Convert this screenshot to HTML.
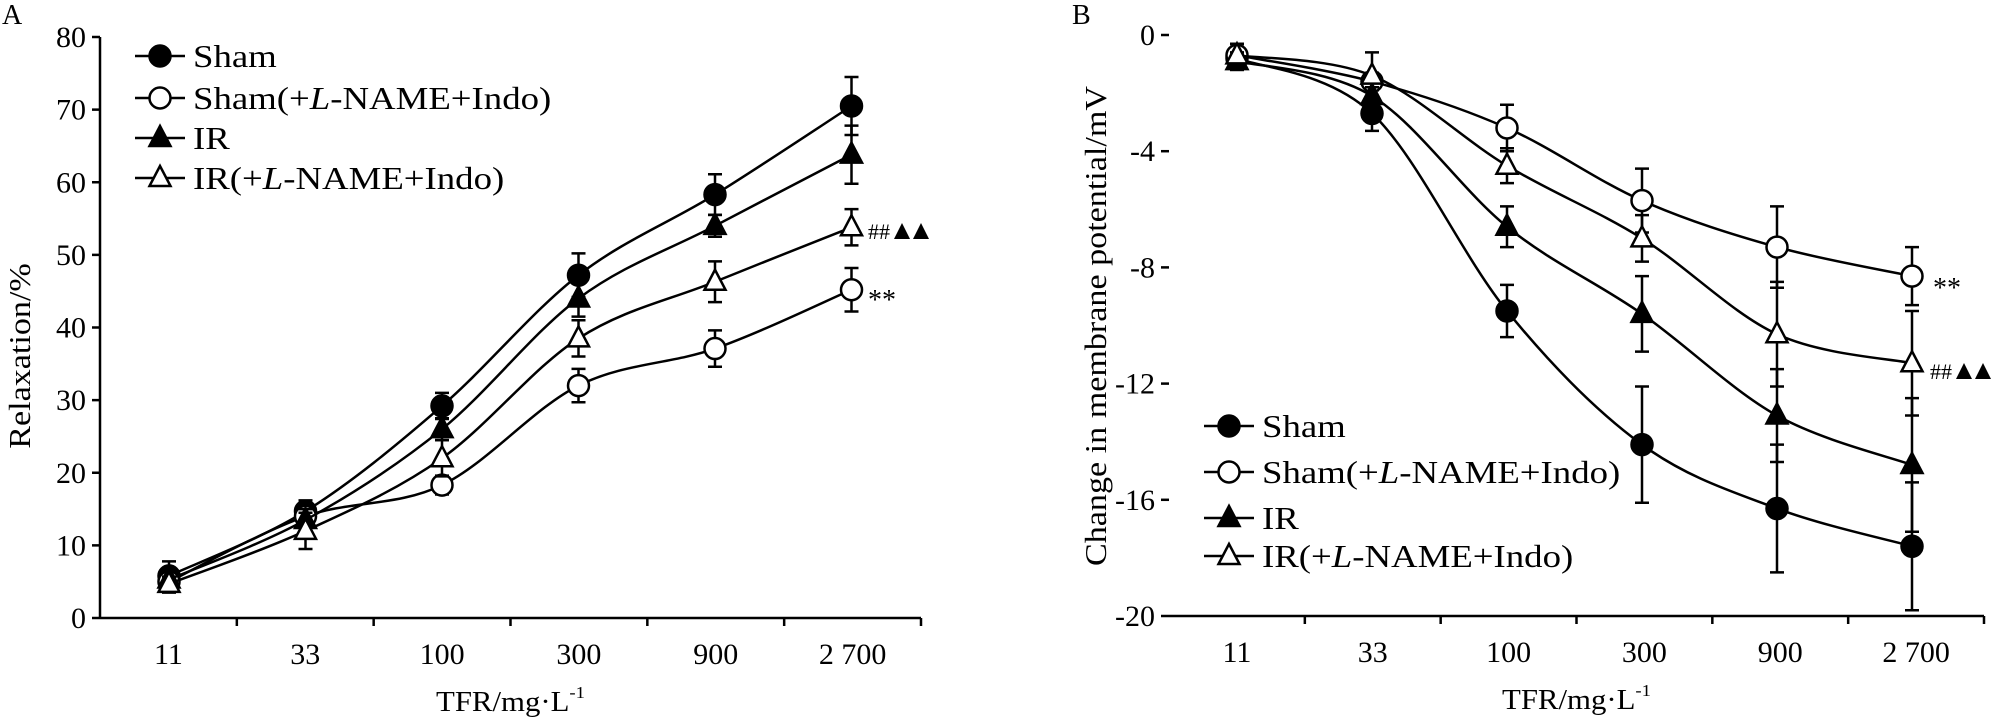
<!DOCTYPE html>
<html><head><meta charset="utf-8"><style>
html,body{margin:0;padding:0;background:#fff}
svg{display:block;font-family:"Liberation Serif",serif}
</style></head><body>
<svg id="chart" width="2005" height="724" viewBox="0 0 2005 724"></svg>
<script>
const categories = ["11","33","100","300","900","2 700"];
const seriesNames = ["Sham","Sham(+L-NAME+Indo)","IR","IR(+L-NAME+Indo)"];
const markers = ["fc","oc","ft","ot"];
// Panel A: relaxation %
const aSham = [5.8,14.7,29.2,47.2,58.3,70.5];
const aShamL = [5.0,14.0,18.3,32.0,37.1,45.2];
const aIR = [5.3,13.5,26.0,44.0,54.0,63.8];
const aIRL = [4.7,12.0,22.0,38.5,46.3,53.8];
const aShamErr = [2.0,1.5,1.8,3.0,2.8,4.0];
const aShamLErr = [1.5,1.5,1.3,2.3,2.5,3.0];
const aIRErr = [1.5,1.5,1.5,2.5,1.5,4.0];
const aIRLErr = [1.0,2.5,2.5,2.5,2.8,2.5];
const aTicks = [0,10,20,30,40,50,60,70,80];
// Panel B: membrane potential change mV
const bSham = [-0.8,-2.7,-9.5,-14.1,-16.3,-17.6];
const bShamL = [-0.7,-1.6,-3.2,-5.7,-7.3,-8.3];
const bIR = [-0.9,-2.1,-6.6,-9.6,-13.1,-14.8];
const bIRL = [-0.7,-1.4,-4.5,-7.0,-10.3,-11.3];
const bShamErr = [0.4,0.6,0.9,2.0,2.2,2.2];
const bShamLErr = [0.3,0.3,0.8,1.1,1.4,1.0];
const bIRErr = [0.3,0.3,0.7,1.3,1.6,2.3];
const bIRLErr = [0.4,0.8,0.6,0.8,1.8,1.8];
const bTicks = [0,-4,-8,-12,-16,-20];

const NS="http://www.w3.org/2000/svg";
const svg=document.getElementById('chart');
function mk(tag,attrs,parent,text){const e=document.createElementNS(NS,tag);for(const k in attrs)e.setAttribute(k,attrs[k]);if(text!==undefined)e.textContent=text;(parent||svg).appendChild(e);return e;}
function smooth(pts){let d=`M${pts[0][0]},${pts[0][1]}`;for(let i=0;i<pts.length-1;i++){const p0=pts[Math.max(0,i-1)],p1=pts[i],p2=pts[i+1],p3=pts[Math.min(pts.length-1,i+2)];const t=6;d+=` C${p1[0]+(p2[0]-p0[0])/t},${p1[1]+(p2[1]-p0[1])/t} ${p2[0]-(p3[0]-p1[0])/t},${p2[1]-(p3[1]-p1[1])/t} ${p2[0]},${p2[1]}`;}return d;}
function marker(g,type,x,y){
  if(type[1]==='c'){return mk('circle',{cx:x,cy:y,r:10.5,fill:type[0]==='f'?'#000':'#fff',stroke:'#000','stroke-width':2.5},g);}
  return mk('polygon',{points:`${x},${y-12} ${x+10.5},${y+8} ${x-10.5},${y+8}`,fill:type[0]==='f'?'#000':'#fff',stroke:'#000','stroke-width':2.5},g);
}
function stxt(parent,x,y,size,sx,anchor){const g=mk('g',{transform:`translate(${x},${y}) scale(${sx},1)`},parent);return mk('text',{x:0,y:0,'font-size':size,'text-anchor':anchor||'start'},g);}
function panel(cfg){
  const P=mk('g',{},svg);
  
  
  const ys=v=>cfg.y0+(v-cfg.vmin)/(cfg.vmax-cfg.vmin)*(cfg.y1-cfg.y0);
  const xs=i=>cfg.px0+i*cfg.pstep;
  const lab=mk('text',{x:cfg.labX,y:24,'font-size':28},P,cfg.label);
  
  const ax=mk('g',{stroke:'#000','stroke-width':2.5,fill:'none'},P);
  
  mk('line',{x1:cfg.ax,y1:ys(cfg.vmax),x2:cfg.ax,y2:cfg.yb},ax);
  mk('line',{x1:cfg.ax,y1:cfg.yb,x2:cfg.axEnd,y2:cfg.yb},ax);
  const tx=mk('g',{'font-size':30,'text-anchor':'end'},P);
  
  cfg.ticks.forEach(t=>{const y=ys(t);mk('line',{x1:cfg.ax-8,y1:y,x2:cfg.ax,y2:y,stroke:'#000','stroke-width':2.5},ax);mk('text',{x:cfg.ax-14,y:y+10},tx,String(t));});
  const step=(cfg.axEnd-cfg.ax)/6;
  for(let i=1;i<=6;i++){const x=cfg.ax+i*step;mk('line',{x1:x,y1:cfg.yb,x2:x,y2:cfg.yb+8},ax);}
  const xt=mk('g',{'font-size':30,'text-anchor':'middle'},P);
  
  categories.forEach((c,i)=>mk('text',{x:cfg.ax+(i+0.5)*step,y:cfg.yb+46},xt,c));
  const xtitle=stxt(P,(cfg.ax+cfg.axEnd)/2,cfg.yb+93,28,1.1,'middle');
  
  xtitle.innerHTML='TFR/mg·L<tspan dy="-13" font-size="17">-1</tspan>';
  const yt=mk('text',{transform:`translate(${cfg.ytX},${cfg.ytY}) rotate(-90) scale(1.1,1)`,'font-size':31,'text-anchor':'middle'},P,cfg.ytitle);
  
  cfg.series.forEach((s,si)=>{
    const g=mk('g',{},P);
    
    
    const pts=s.map((v,i)=>[xs(i),ys(v)]);
    mk('path',{d:smooth(pts),fill:'none',stroke:'#000','stroke-width':2.5},g);
    s.forEach((v,i)=>{const x=xs(i),e=cfg.errs[si][i];const a=ys(v+e),b=ys(v-e);
      mk('path',{d:`M${x},${a}V${b}M${x-7},${a}H${x+7}M${x-7},${b}H${x+7}`,stroke:'#000','stroke-width':2.5,fill:'none'},g);});
    s.forEach((v,i)=>marker(g,markers[si],xs(i),ys(v)));
  });
  const lg=mk('g',{},P);
  
  seriesNames.forEach((n,i)=>{const y=cfg.legY[i];const e=mk('g',{},lg);
    
    mk('line',{x1:cfg.legX-25,y1:y,x2:cfg.legX+25,y2:y,stroke:'#000','stroke-width':2.5},e);
    marker(e,markers[i],cfg.legX,y);
    const t=stxt(e,cfg.legX+33,y+11,32,1.15,'start');
    if(n.indexOf('L-')>=0){const parts=n.split('L-');t.innerHTML=parts[0]+'<tspan font-style="italic">L</tspan>-'+parts[1];}else t.textContent=n;
  });
  cfg.notes.forEach(nt=>{
    if(nt[2]==='##'){
      const g=mk('g',{},P);
      mk('text',{x:nt[0],y:nt[1],'font-size':22},g,'##');
      const bx=nt[0]+26,by=nt[1];
      mk('polygon',{points:`${bx+8},${by-16} ${bx+16},${by} ${bx},${by}`,fill:'#000'},g);
      mk('polygon',{points:`${bx+27},${by-16} ${bx+35},${by} ${bx+19},${by}`,fill:'#000'},g);
    } else {
      const t=mk('text',{x:nt[0],y:nt[1],'font-size':28},P,nt[2]);
    }
  });
}
panel({name:'panel-a',label:'A',labX:2,vmin:0,vmax:80,y0:618,y1:37,yb:618,ax:100,axEnd:921,px0:169,pstep:136.5,ticks:aTicks,
  ytitle:'Relaxation/%',ytX:30,ytY:356,series:[aSham,aShamL,aIR,aIRL],errs:[aShamErr,aShamLErr,aIRErr,aIRLErr],
  legX:160,legY:[56,98,138,178],notes:[[868,239,'##'],[868,309,'**']]});
panel({name:'panel-b',label:'B',labX:1072,vmin:0,vmax:-20,y0:35,y1:616,yb:616,ax:1169,axEnd:1984,px0:1237,pstep:135,ticks:bTicks,
  ytitle:'Change in membrane potential/mV',ytX:1106,ytY:326,series:[bSham,bShamL,bIR,bIRL],errs:[bShamErr,bShamLErr,bIRErr,bIRLErr],
  legX:1229,legY:[426,472,518,556],notes:[[1933,297,'**'],[1930,379,'##']]});
</script>
</body></html>
